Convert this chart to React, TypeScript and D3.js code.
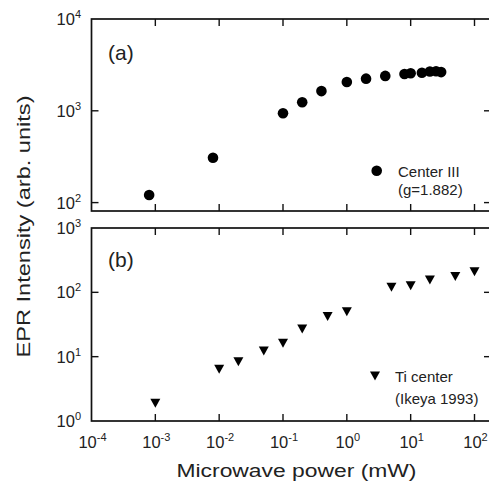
import { useEffect, useRef } from "react";
import * as d3 from "d3";

// panel (a): Center III (g=1.882)
const powerA = [0.0008, 0.008, 0.1, 0.2, 0.4, 1, 2, 4, 8, 10, 15, 20, 25, 30];
const intensityA = [121, 308, 940, 1240, 1640, 2060, 2240, 2400, 2520, 2560, 2600, 2680, 2700, 2640];

// panel (b): Ti center (Ikeya 1993)
const powerB = [0.001, 0.01, 0.02, 0.05, 0.1, 0.2, 0.5, 1, 5, 10, 20, 50, 100];
const intensityB = [1.88, 6.4, 8.3, 12.2, 16.1, 27, 42, 50, 120, 127, 155, 177, 208];

const xTicks = [1e-4, 1e-3, 1e-2, 1e-1, 1, 1e1, 1e2];
const yTicksA = [1e2, 1e3, 1e4];
const yTicksB = [1, 1e1, 1e2, 1e3];

const font = "'Liberation Sans', Arial, sans-serif";

export default function App() {
  const ref = useRef<SVGSVGElement>(null);

  useEffect(() => {
    const svg = d3.select(ref.current);
    svg.selectAll("*").remove();

    const left = 91.5;
    const right = 491;
    const tick = 7;

    const x = d3.scaleLog().domain([1e-4, 1e2]).range([left, 474.5]);
    const yA = d3.scaleLog().domain([1e2, 1e4]).range([202.6, 19]);
    const yB = d3.scaleLog().domain([1, 1e3]).range([421, 228]);

    const panels = [
      { y: yA, top: 19, bottom: 211, ticks: yTicksA, label: "(a)", labelY: 60 },
      { y: yB, top: 228, bottom: 421, ticks: yTicksB, label: "(b)", labelY: 267 },
    ];

    const expLabel = (sel, v) => {
      const e = Math.round(Math.log10(v));
      sel.append("tspan").text("10");
      sel.append("tspan").attr("dy", -7).attr("font-size", 11).text(String(e));
    };

    panels.forEach(p => {
      const g = svg.append("g");
      g.append("rect")
        .attr("x", left)
        .attr("y", p.top)
        .attr("width", right - left)
        .attr("height", p.bottom - p.top)
        .attr("fill", "none")
        .attr("stroke", "#111")
        .attr("stroke-width", 1.7);

      // x ticks, inward on top and bottom edges
      xTicks.slice(1).forEach(v => {
        g.append("line")
          .attr("x1", x(v)).attr("x2", x(v))
          .attr("y1", p.top).attr("y2", p.top + tick)
          .attr("stroke", "#111").attr("stroke-width", 1.4);
        g.append("line")
          .attr("x1", x(v)).attr("x2", x(v))
          .attr("y1", p.bottom).attr("y2", p.bottom - tick)
          .attr("stroke", "#111").attr("stroke-width", 1.4);
      });

      // y ticks, inward on both sides
      p.ticks.forEach(v => {
        const yy = p.y(v);
        if (yy > p.top + 1 && yy < p.bottom - 1) {
          g.append("line")
            .attr("x1", left).attr("x2", left + tick)
            .attr("y1", yy).attr("y2", yy)
            .attr("stroke", "#111").attr("stroke-width", 1.4);
          g.append("line")
            .attr("x1", right).attr("x2", right - tick)
            .attr("y1", yy).attr("y2", yy)
            .attr("stroke", "#111").attr("stroke-width", 1.4);
        }
        const t = g.append("text")
          .attr("x", 81)
          .attr("y", yy + 6)
          .attr("text-anchor", "end")
          .attr("font-family", font)
          .attr("font-size", 16.5)
          .attr("fill", "#222");
        expLabel(t, v);
      });

      g.append("text")
        .attr("x", 108)
        .attr("y", p.labelY)
        .attr("font-family", font)
        .attr("font-size", 21)
        .attr("fill", "#222")
        .text(p.label);
    });

    // x tick labels
    xTicks.forEach(v => {
      const t = svg.append("text")
        .attr("x", x(v) + 1)
        .attr("y", 448)
        .attr("text-anchor", "middle")
        .attr("font-family", font)
        .attr("font-size", 16.5)
        .attr("fill", "#222");
      expLabel(t, v);
    });

    // panel (a) points
    svg.append("g")
      .selectAll("circle")
      .data(powerA.map((p, i) => ({ p, v: intensityA[i] })))
      .join("circle")
      .attr("cx", d => x(d.p))
      .attr("cy", d => yA(d.v))
      .attr("r", 5.3)
      .attr("fill", "#000");

    // panel (b) points
    const tri = (w, h) => `M${-w / 2},${-h / 2}L${w / 2},${-h / 2}L0,${h / 2}Z`;
    svg.append("g")
      .selectAll("path")
      .data(powerB.map((p, i) => ({ p, v: intensityB[i] })))
      .join("path")
      .attr("transform", d => `translate(${x(d.p)},${yB(d.v)})`)
      .attr("d", tri(10, 9))
      .attr("fill", "#000");

    // legends
    svg.append("circle").attr("cx", 376.7).attr("cy", 170.7).attr("r", 5.3).attr("fill", "#000");
    svg.append("text").attr("x", 398).attr("y", 177).attr("font-family", font)
      .attr("font-size", 15).attr("fill", "#222").text("Center III");
    svg.append("text").attr("x", 398).attr("y", 195).attr("font-family", font)
      .attr("font-size", 15).attr("fill", "#222").text("(g=1.882)");

    svg.append("path").attr("transform", "translate(375,376)").attr("d", tri(10, 9)).attr("fill", "#000");
    svg.append("text").attr("x", 395).attr("y", 382).attr("font-family", font)
      .attr("font-size", 15).attr("fill", "#222").text("Ti center");
    svg.append("text").attr("x", 395).attr("y", 404).attr("font-family", font)
      .attr("font-size", 15).attr("fill", "#222").text("(Ikeya 1993)");

    // axis titles
    svg.append("text")
      .attr("x", 296.5)
      .attr("y", 477)
      .attr("text-anchor", "middle")
      .attr("font-family", font)
      .attr("font-size", 17.5)
      .attr("fill", "#222")
      .attr("textLength", 240)
      .attr("lengthAdjust", "spacingAndGlyphs")
      .text("Microwave power (mW)");

    svg.append("text")
      .attr("transform", "translate(30,226.5) rotate(-90)")
      .attr("text-anchor", "middle")
      .attr("font-family", font)
      .attr("font-size", 17.5)
      .attr("fill", "#222")
      .attr("textLength", 262)
      .attr("lengthAdjust", "spacingAndGlyphs")
      .text("EPR Intensity (arb. units)");
  }, []);

  return (
    <svg
      ref={ref}
      width={489}
      height={489}
      style={{ position: "absolute", left: 0, top: 0, background: "#fff" }}
    ></svg>
  );
}
